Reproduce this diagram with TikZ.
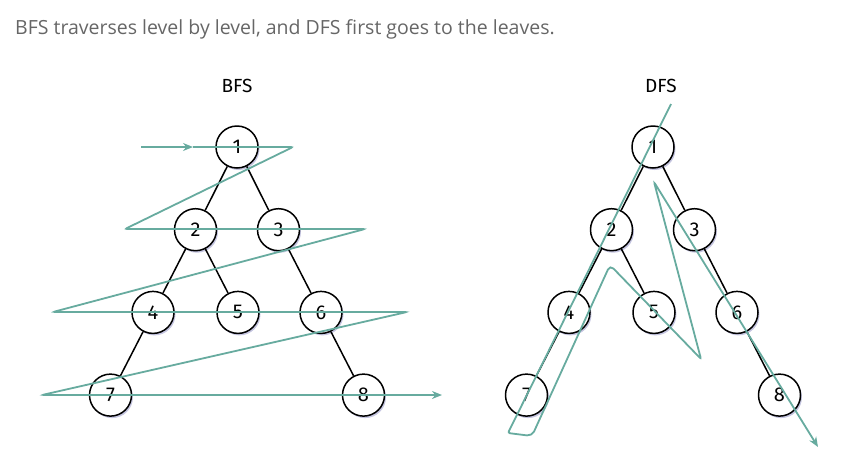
\documentclass[tikz,border=0pt]{standalone}
\usepackage{fontspec}
\setmainfont{Open Sans}
\newfontfamily\labelfont{Fira Sans}
\usetikzlibrary{shadows,arrows.meta}
\definecolor{walkteal}{HTML}{67AB9F}
\definecolor{captiongray}{HTML}{666666}

\begin{document}
\begin{tikzpicture}[x=1pt,y=-1pt]
\tikzstyle{tree-node}=
[
	draw, circle, fill=white, line width=1.5pt,
	minimum size=42pt, inner sep=0pt,
	font=\labelfont\fontsize{20}{20}\selectfont,
	drop shadow={shadow xshift=1.5pt, shadow yshift=-2pt,
		fill=blue!30!gray, opacity=.35}
]
\tikzstyle{title-label}=[font=\labelfont\fontsize{19}{19}\selectfont]
\tikzstyle{walk}=[draw=walkteal, line width=1.8pt, rounded corners=2pt]
\tikzstyle{walk-tip}=[-{Stealth[length=10pt,width=8pt]}]

\useasboundingbox (0,0) rectangle (868,464);

\node[anchor=west, inner sep=0pt, text=captiongray, font=\fontsize{19.5}{22}\selectfont] (caption) at (15,29)
	{BFS traverses level by level, and DFS first goes to the leaves.};
\node[title-label] (bfs-title) at (237,86) {BFS};
\node[title-label] (dfs-title) at (661,86) {DFS};

\begin{scope}[level distance=82.7pt]
\tikzstyle{every node}=[tree-node]
\tikzstyle{edge from parent}=[draw, line width=1.5pt]
\tikzstyle{level 1}=[sibling distance=83pt]
\tikzstyle{level 2}=[sibling distance=85pt]
\tikzstyle{level 3}=[sibling distance=85pt]

% BFS tree
\node (b1) at (237,147) {1}
	child {node (b2) {2}
		child {node (b4) {4}
			child {node (b7) {7}}
			child[missing] {}
		}
		child {node (b5) {5}}
	}
	child {node (b3) {3}
		child[missing] {}
		child {node (b6) {6}
			child[missing] {}
			child {node (b8) {8}}
		}
	}
;

% DFS tree
\node (d1) at (653,147) {1}
	child {node (d2) {2}
		child {node (d4) {4}
			child {node (d7) {7}}
			child[missing] {}
		}
		child {node (d5) {5}}
	}
	child {node (d3) {3}
		child[missing] {}
		child {node (d6) {6}
			child[missing] {}
			child {node (d8) {8}}
		}
	}
;
\end{scope}

% BFS walk
\coordinate (bs) at (141,147);
\coordinate (bm) at (193,147);
\coordinate (br1) at (293,147);
\coordinate (bl2) at (125,229);
\coordinate (br2) at (365,229);
\coordinate (bl3) at (53,312);
\coordinate (br3) at (407,312);
\coordinate (bl4) at (42,395);
\coordinate (be) at (442,395);
\draw[walk, walk-tip] (bs) -- (bm);
\draw[walk, walk-tip] (bm) -- (br1) -- (bl2) -- (br2) -- (bl3) -- (br3) -- (bl4) -- (be);

% DFS walk
\coordinate (ds) at (671,104);
\coordinate (dc1) at (508,433);
\coordinate (dc2) at (532,436);
\coordinate (dc3) at (610,265);
\coordinate (dc4) at (701,359);
\coordinate (dc5) at (654,182);
\coordinate (de) at (818,447);
\draw[walk, walk-tip] (ds) -- (dc1) [rounded corners=5pt] -- (dc2) -- (dc3)
	[rounded corners=2pt] -- (dc4) -- (dc5) -- (de);
\end{tikzpicture}
\end{document}
